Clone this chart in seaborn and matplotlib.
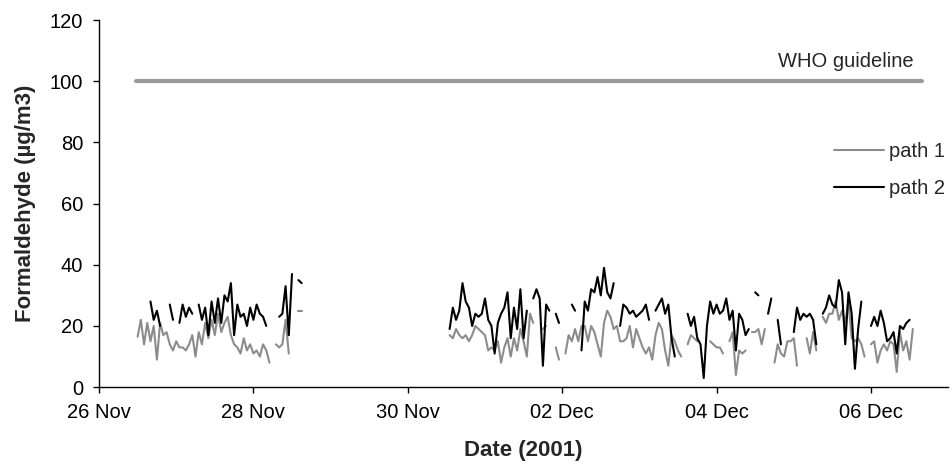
import pandas as pd
import matplotlib
matplotlib.use("Agg")
import matplotlib.pyplot as plt
from matplotlib.lines import Line2D
import seaborn as sns

# Hourly formaldehyde concentrations (µg/m3); None marks an hour without data.
# First sampling block, starting 26 Nov 2001 12:00.
block1_start = "2001-11-26 12:00"
path1_block1 = [16.5, 22, 14, 21, 15, 20, 9, 21, 17, 18, 14, 12, 15, 13, 13, 12,
                14, 17, 10, 18, 14, 21, 16, 22, 17, 24, 18, 21, 23, 17, 14, 13,
                11, 16, 12, 14, 11, 12, 10, 14, 12, 8, None, 14, 13, 14, 22, 11,
                None, None, 25, 25]
path2_block1 = [None, None, None, None, 28, 22, 25, 20, None, None, 27, 22, None, 21, 27, 23,
                26, 24, None, 27, 22, 26, 17, 28, 21, 29, 21, 30, 28, 34, 17, 27,
                23, 24, 20, 26, 22, 27, 24, 23, 20, None, None, None, 23, 24, 33, 17,
                37, None, 35, 34]

# Second sampling block, starting 30 Nov 2001 13:00.
block2_start = "2001-11-30 13:00"
path1_block2 = [17, 16, 19, 17, 16, 17, 15, 17, 20, 19, 18, 17, 12, 13, 12, 15,
                8, 13, 16, 10, 16, 12, 19, 15, 10, 24, 21, None, None, 19, 20, None,
                None, 13, 9, None, 11, 17, 15, 19, 15, 20, 20, 15, 20, 18, 14, 10,
                21, 25, 23, 19, 20, 15, 15, 16, 20, 13, 19, 16, 13, 11, 13, 9,
                17, 21, 19, 12, 7, 17, 15, 12, 10, None, 14, 17, 16, 15, None, None,
                None, 15, 14, 13, 13, 11, None, 15, 18, 4, 12, 11, 12, None, 18, 18,
                19, 14, 19, None, None, 8, 14, 11, 10, 15, 15, 16, 7, None, None, 16,
                11, 18, 12, None, 23, 21, 24, 24, 28, 22, 25, 21, 28, 16, 15, 16,
                14, 10, None, 14, 15, 8, 12, 14, 12, 15, 14, 5, 18, 12, 15, 9,
                19]
path2_block2 = [19, 26, 22, 25, 34, 28, 26, 20, 24, 23, 24, 29, 22, 20, 11, 21,
                24, 26, 31, 16, 26, 19, 32, 16, 25, None, 29, 32, 29, 7, 27, 25,
                None, 24, 21, None, None, None, 27, 25, None, 12, 28, 25, 32, 31, 36, 30,
                39, 31, 29, 34, None, 20, 27, 26, 24, 25, 23, 24, 25, 27, 22, None,
                25, 27, 29, 24, 27, 16, 10, None, None, None, 24, 20, 23, 16, 14, 3,
                20, 28, 24, 27, 24, 25, 29, 22, 25, 12, 24, 22, 17, 19, None, 31,
                30, None, None, 24, 29, None, 22, 14, None, None, None, 18, 26, 22, 24, 23,
                24, 22, 14, None, 24, 26, 30, 27, 26, 35, 31, 14, 31, 24, 6, 19,
                28, None, None, 20, 23, 20, 25, 21, 15, 16, 18, 11, 20, 19, 21, 22,
                None]

who_limit = 100
who_span = ["2001-11-26 11:30", "2001-12-06 16:00"]

tick_dates = pd.date_range("2001-11-26", "2001-12-06", freq="2D")
tick_labels = ["26 Nov", "28 Nov", "30 Nov", "02 Dec", "04 Dec", "06 Dec"]
y_ticks = [0, 20, 40, 60, 80, 100, 120]


def to_rows(values, start, label, block):
    """Turn an hourly list into rows, giving each unbroken run its own id."""
    times = pd.date_range(start, periods=len(values), freq="h")
    rows, run, gap = [], 0, True
    for t, v in zip(times, values):
        if v is None:
            gap = True
            continue
        if gap:
            run += 1
            gap = False
        rows.append({"time": t, "value": v, "path": label,
                     "run": f"{label}/{block}/{run}"})
    return rows


records = (to_rows(path1_block1, block1_start, "path 1", "a")
           + to_rows(path1_block2, block2_start, "path 1", "b")
           + to_rows(path2_block1, block1_start, "path 2", "a")
           + to_rows(path2_block2, block2_start, "path 2", "b"))
df = pd.DataFrame(records)

who_df = pd.DataFrame({"time": pd.to_datetime(who_span),
                       "value": [who_limit, who_limit]})

sns.set_style("ticks")
plt.rcParams["font.family"] = ["Liberation Sans", "DejaVu Sans"]

colors = {"path 1": "#8c8c8c", "path 2": "#000000"}
fs = 14.5
fs_label = 16

fig = plt.figure(figsize=(9.52, 4.71), dpi=100)
ax = fig.add_axes([0.104, 0.178, 0.892, 0.7795])

sns.lineplot(data=who_df, x="time", y="value", color="#9a9a9a",
             linewidth=3.0, ax=ax, legend=False)
sns.lineplot(data=df, x="time", y="value", hue="path", units="run",
             estimator=None, palette=colors, hue_order=["path 1", "path 2"],
             linewidth=1.5, ax=ax, legend=False)

ax.set_xlim(pd.Timestamp("2001-11-26"), pd.Timestamp("2001-12-07"))
ax.set_ylim(0, 120)
ax.set_xticks(tick_dates)
ax.set_xticklabels(tick_labels)
ax.set_yticks(y_ticks)

ax.tick_params(axis="both", direction="out", length=4.3, width=1,
               colors="#000000", labelsize=fs)
ax.tick_params(axis="x", pad=7)
ax.tick_params(axis="y", pad=7)
for side in ("top", "right"):
    ax.spines[side].set_visible(False)
for side in ("left", "bottom"):
    ax.spines[side].set_color("#000000")
    ax.spines[side].set_linewidth(1.0)

ax.set_xlabel("Date (2001)", fontsize=fs_label, fontweight="bold")
ax.set_ylabel("Formaldehyde (µg/m3)", fontsize=fs_label, fontweight="bold")
ax.xaxis.set_label_coords(0.5, -0.144)
ax.yaxis.set_label_coords(-0.074, 0.5)

ax.text(0.959, 0.886, "WHO guideline", transform=ax.transAxes,
        ha="right", va="center", fontsize=fs)

handles = [Line2D([], [], color=colors["path 1"], linewidth=1.5),
           Line2D([], [], color=colors["path 2"], linewidth=1.5)]
ax.legend(handles, ["path 1", "path 2"], loc="center left",
          bbox_to_anchor=(0.866, 0.591), frameon=False, fontsize=fs,
          handlelength=2.44, handletextpad=0.25, labelspacing=0.9,
          borderpad=0, borderaxespad=0)

fig.savefig("out.png", dpi=100)
